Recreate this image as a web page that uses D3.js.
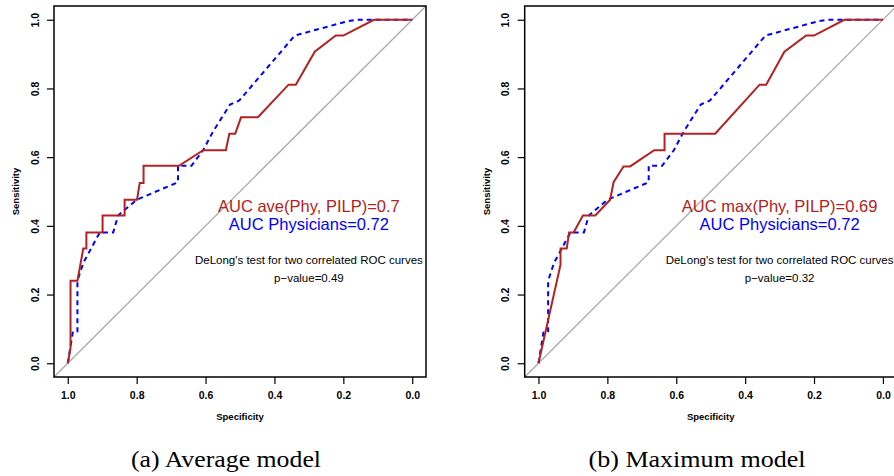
<!DOCTYPE html>
<html>
<head>
<meta charset="utf-8">
<script src="https://cdn.jsdelivr.net/npm/d3@7"></script>
<style>
body { margin: 0; background: #fff; }
svg { display: block; font-family: "Liberation Sans", Arial, sans-serif; }
.tick text { font-weight: bold; font-size: 10.5px; }
.axis-title { font-weight: bold; font-size: 9.5px; }
</style>
</head>
<body>
<svg width="894" height="476"></svg>
<script>
// ROC curve points: [specificity, sensitivity]
var physicians = [[1,0],[0.985,0.093],[0.972,0.093],[0.972,0.24],[0.955,0.292],[0.907,0.381],[0.868,0.381],
	[0.854,0.43],[0.8,0.476],[0.68,0.527],[0.68,0.575],[0.641,0.575],[0.607,0.62],[0.578,0.675],[0.529,0.753],
	[0.502,0.765],[0.341,0.954],[0.19,0.995],[0.161,1],[0,1]];

var aveModel = [[1,0],[0.992,0.045],[0.992,0.24],[0.972,0.24],[0.955,0.334],[0.946,0.334],[0.946,0.381],
	[0.899,0.381],[0.899,0.43],[0.835,0.43],[0.835,0.476],[0.799,0.476],[0.791,0.525],[0.78,0.525],[0.78,0.575],
	[0.677,0.575],[0.607,0.62],[0.541,0.62],[0.531,0.668],[0.514,0.668],[0.497,0.716],[0.448,0.716],[0.359,0.811],
	[0.338,0.811],[0.283,0.907],[0.222,0.954],[0.2,0.954],[0.111,1],[0,1]];

var maxModel = [[1,0],[0.936,0.287],[0.936,0.334],[0.918,0.334],[0.911,0.381],[0.898,0.381],[0.871,0.43],
	[0.835,0.43],[0.792,0.476],[0.782,0.527],[0.753,0.573],[0.734,0.573],[0.664,0.62],[0.634,0.62],[0.634,0.668],
	[0.487,0.668],[0.358,0.811],[0.339,0.811],[0.286,0.907],[0.223,0.954],[0.2,0.954],[0.112,1],[0,1]];

var tickValues = [0, 0.2, 0.4, 0.6, 0.8, 1.0];

var modelLabels = ['AUC ave(Phy, PILP)=0.7', 'AUC max(Phy, PILP)=0.69'];
var physLabel = 'AUC Physicians=0.72';
var testLabel = "DeLong's test for two correlated ROC curves";
var pValues = ['p\u2212value=0.49', 'p\u2212value=0.32'];
var captions = ['(a) Average model', '(b) Maximum model'];

var red = '#b22222';
var blue = '#0000ff';

var svg = d3.select('svg');

var panelWidth = 372;
var panelTop = 6, panelBottom = 377;
var panelLefts = [54, 524.7];
var captionX = [226, 697];
var captionWidth = [190, 217]; // palatino-ish widths

function drawPanel(i, model) {
	var left = panelLefts[i];

	var x = d3.scaleLinear().domain([1.04, -0.04]).range([left, left + panelWidth]);
	var y = d3.scaleLinear().domain([-0.04, 1.04]).range([panelBottom, panelTop]);

	var g = svg.append('g').attr('class', 'panel');

	var line = d3.line()
		.x(function(d) { return x(d[0]); })
		.y(function(d) { return y(d[1]); });

	// chance diagonal
	g.append('path')
		.datum([[1.04, -0.04], [-0.04, 1.04]])
		.attr('d', line)
		.attr('fill', 'none')
		.attr('stroke', '#aaaaaa')
		.attr('stroke-width', 1.3);

	g.append('path')
		.datum(physicians)
		.attr('d', line)
		.attr('fill', 'none')
		.attr('stroke', blue)
		.attr('stroke-width', 2)
		.attr('stroke-dasharray', '5,4');

	g.append('path')
		.datum(model)
		.attr('d', line)
		.attr('fill', 'none')
		.attr('stroke', red)
		.attr('stroke-width', 2);

	// box
	g.append('rect')
		.attr('x', left)
		.attr('y', panelTop)
		.attr('width', panelWidth)
		.attr('height', panelBottom - panelTop)
		.attr('fill', 'none')
		.attr('stroke', '#000')
		.attr('stroke-width', 1.5);

	var xAxis = g.append('g')
		.attr('transform', 'translate(0,' + panelBottom + ')')
		.call(d3.axisBottom(x).tickValues(tickValues).tickSize(7).tickSizeOuter(0).tickFormat(d3.format('.1f')));
	xAxis.select('.domain').remove();
	xAxis.selectAll('.tick line').attr('stroke-width', 1.2);
	xAxis.selectAll('.tick text').attr('y', 15).attr('fill', '#000');

	var yAxis = g.append('g')
		.attr('transform', 'translate(' + left + ',0)')
		.call(d3.axisLeft(y).tickValues(tickValues).tickSize(7).tickSizeOuter(0).tickFormat(d3.format('.1f')));
	yAxis.select('.domain').remove();
	yAxis.selectAll('.tick line').attr('stroke-width', 1.2);
	yAxis.selectAll('.tick text')
		.attr('transform', 'rotate(-90)')
		.attr('x', 0)
		.attr('y', -19)
		.attr('dy', '0.35em')
		.attr('text-anchor', 'middle')
		.attr('fill', '#000');

	g.append('text')
		.attr('class', 'axis-title')
		.attr('x', left + panelWidth / 2)
		.attr('y', 420)
		.attr('text-anchor', 'middle')
		.text('Specificity');

	g.append('text')
		.attr('class', 'axis-title')
		.attr('transform', 'translate(' + (left - 35) + ',' + ((panelTop + panelBottom) / 2) + ') rotate(-90)')
		.attr('text-anchor', 'middle')
		.text('Sensitivity');

	// annotations
	g.append('text')
		.attr('x', x(0.3)).attr('y', y(0.44))
		.attr('text-anchor', 'middle')
		.attr('font-size', 16.5)
		.attr('fill', red)
		.text(modelLabels[i]);

	g.append('text')
		.attr('x', x(0.3)).attr('y', y(0.387))
		.attr('text-anchor', 'middle')
		.attr('font-size', 16.5)
		.attr('fill', blue)
		.text(physLabel);

	g.append('text')
		.attr('x', x(0.3)).attr('y', y(0.289))
		.attr('text-anchor', 'middle')
		.attr('font-size', 11.5)
		.text(testLabel);

	g.append('text')
		.attr('x', x(0.3)).attr('y', y(0.238))
		.attr('text-anchor', 'middle')
		.attr('font-size', 11.5)
		.text(pValues[i]);

	svg.append('text')
		.attr('x', captionX[i])
		.attr('y', 467)
		.attr('text-anchor', 'middle')
		.attr('font-family', '"Liberation Serif", "DejaVu Serif", serif')
		.attr('font-size', 24)
		.attr('textLength', captionWidth[i])
		.attr('lengthAdjust', 'spacingAndGlyphs')
		.text(captions[i]);
}

drawPanel(0, aveModel);
drawPanel(1, maxModel);
</script>
</body>
</html>
